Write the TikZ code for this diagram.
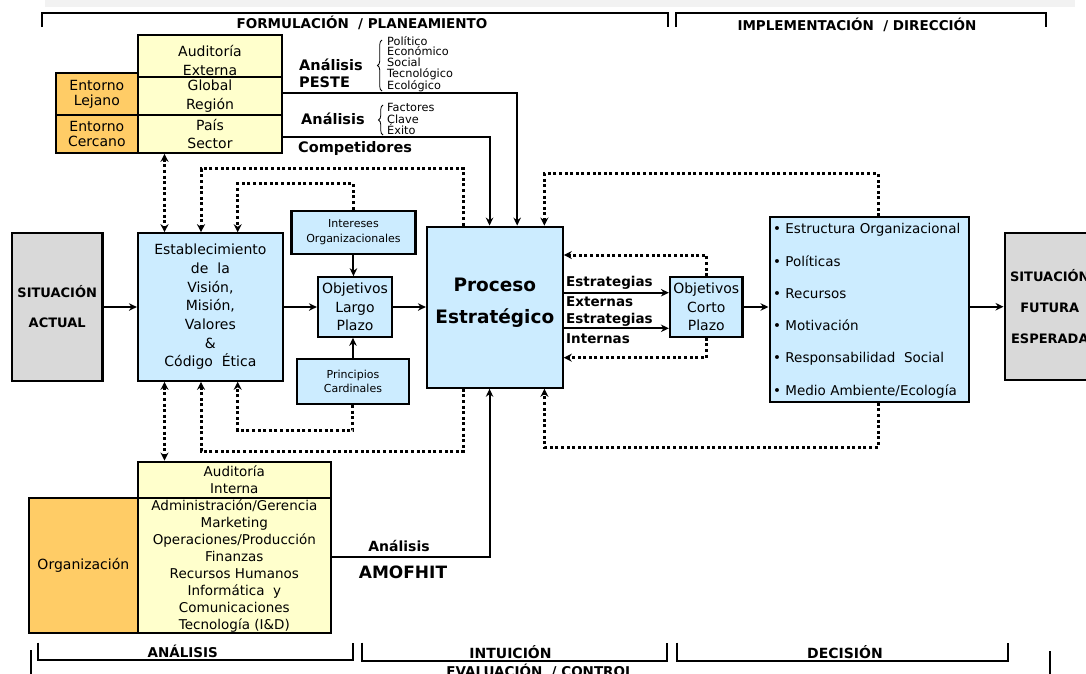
\documentclass[tikz,border=0pt]{standalone}
\usepackage{fontspec}
\setmainfont{DejaVu Sans}
\usetikzlibrary{arrows.meta,decorations.pathreplacing,calc}
\newcommand{\myfs}[2]{\fontsize{#1}{#2}\selectfont}
\definecolor{yelc}{HTML}{FFFFCC}
\definecolor{orac}{HTML}{FFCC66}
\definecolor{bluc}{HTML}{CCECFF}
\definecolor{grec}{HTML}{D9D9D9}
\begin{document}
\begin{tikzpicture}[x=1pt,y=-1pt,
  bx/.style={draw, line width=2.2pt, inner sep=0pt, align=center, text=black},
  yel/.style={bx, fill=yelc},
  ora/.style={bx, fill=orac},
  blu/.style={bx, fill=bluc},
  gry/.style={bx, fill=grec},
  txt/.style={inner sep=0pt, align=center},
  conn/.style={line width=2pt, -{Stealth[length=8pt,width=7.5pt]}},
  dots/.style={line width=3pt, dash pattern=on 3pt off 2.6pt},
  dotarr/.style={dots, -{Stealth[length=8pt,width=8pt]}},
  dotdbl/.style={dots, {Stealth[length=8pt,width=8pt]}-{Stealth[length=8pt,width=8pt]}},
  brk/.style={line width=2pt},
  brc/.style={line width=0.8pt, decorate, decoration={brace, amplitude=4.5pt}},
  hd/.style={txt, font=\bfseries\myfs{13.5}{14}}
]
\useasboundingbox (0,0) rectangle (1086,673);
\fill[white] (0,0) rectangle (1086,673);
\clip (0,0) rectangle (1086,673);
\fill[black!5] (45,0) rectangle (1075,7);

% ---- top brackets
\draw[brk] (42,27) -- (42,13) -- (668,13) -- (668,27);
\draw[brk] (676,27) -- (676,13) -- (1046,13) -- (1046,27);
\node[hd] (tform) at (362,22.7) {FORMULACIÓN\ \ / PLANEAMIENTO};
\node[hd] (timpl) at (857,25) {IMPLEMENTACIÓN\ \ / DIRECCIÓN};

% ---- external audit block
\node[ora, minimum width=81.7, minimum height=42, font=\myfs{14}{14.5}] (lejano) at (96.85,94.3) {Entorno\\Lejano};
\node[ora, minimum width=81.7, minimum height=37.4, font=\myfs{14}{15}] (cercano) at (96.85,134) {Entorno\\Cercano};
\node[yel, minimum width=144.6, minimum height=41.7] (audext) at (210,56.15) {};
\node[txt, font=\myfs{14}{19.3}] (audextT) at (210,60.3) {Auditoría\\Externa};
\node[yel, minimum width=144.6, minimum height=38.3, font=\myfs{14}{18.7}] (global) at (210,96.15) {Global\\Región};
\node[yel, minimum width=144.6, minimum height=37.4, font=\myfs{14}{18.3}] (pais) at (210,134) {País\\Sector};

\node[txt, anchor=west, align=left, font=\bfseries\myfs{14.5}{16.7}] (peste) at (299,73) {Análisis\\PESTE};
\draw[brc] (382,91) -- (382,40);
\node[txt, anchor=west, align=left, font=\myfs{11.3}{10.75}] (pestei) at (387,64.2) {Político\\Económico\\Social\\Tecnológico\\Ecológico};
\node[txt, anchor=west, font=\bfseries\myfs{14.5}{16}] (fce) at (301,119) {Análisis};
\draw[brc] (383,135) -- (383,105);
\node[txt, anchor=west, align=left, font=\myfs{11.3}{11.8}] (fcei) at (387,119) {Factores\\Clave\\Éxito};
\node[txt, anchor=west, font=\bfseries\myfs{14.5}{16}] (comp) at (298,148) {Competidores};

% ---- main row
\node[gry, minimum width=90.4, minimum height=147.4, font=\bfseries\myfs{13}{30}] (sitact) at (57.2,307) {SITUACIÓN\\ACTUAL};
\node[blu, minimum width=144.8, minimum height=147.4, font=\myfs{14}{18.7}] (estab) at (210.4,307) {Establecimiento\\de\ \ la\\Visión,\\Misión,\\Valores\\\&\\Código\ \ Ética};
\node[blu, minimum width=124.1, minimum height=43.6, font=\myfs{11}{15}] (intereses) at (353.45,232.5) {Intereses\\Organizacionales};
\node[blu, minimum width=74, minimum height=59.4, font=\myfs{14}{18.3}] (objlp) at (355,307) {Objetivos\\Largo\\Plazo};
\node[blu, minimum width=112.7, minimum height=44.7, font=\myfs{11}{14.3}] (principios) at (352.95,381.65) {Principios\\Cardinales};
\node[blu, minimum width=135.7, minimum height=161] (proceso) at (494.85,307.2) {};
\node[txt, font=\bfseries\myfs{18.5}{31.6}] (procesoT) at (494.85,302.5) {Proceso\\Estratégico};
\node[blu, minimum width=72.5, minimum height=59.4, font=\myfs{14}{18.3}] (objcp) at (706.25,307) {Objetivos\\Corto\\Plazo};
\node[blu, minimum width=199.1, minimum height=184.4] (impl) at (869.15,309.5) {};
\node[txt, anchor=west, align=left, font=\myfs{13.5}{32.3}] (implT) at (773,310.8) {•\ Estructura Organizacional\\•\ Políticas\\•\ Recursos\\•\ Motivación\\•\ Responsabilidad\ \ Social\\•\ Medio Ambiente/Ecología};
\node[gry, minimum width=90.4, minimum height=146.7, font=\bfseries\myfs{13}{30.7}] (sitfut) at (1049.8,306.7) {SITUACIÓN\\FUTURA\\ESPERADA};

\node[txt, anchor=west, font=\bfseries\myfs{13.5}{14}] (est1) at (566,282.7) {Estrategias};
\node[txt, anchor=west, font=\bfseries\myfs{13.5}{14}] (ext) at (566,301.7) {Externas};
\node[txt, anchor=west, font=\bfseries\myfs{13.5}{14}] (est2) at (566,320) {Estrategias};
\node[txt, anchor=west, font=\bfseries\myfs{13.5}{14}] (inte) at (566,338.3) {Internas};

% ---- internal audit block
\node[ora, minimum width=108.7, minimum height=135, font=\myfs{14}{16}] (org) at (83.35,565.8) {Organización};
\node[yel, minimum width=193.3, minimum height=36.6, font=\myfs{13.5}{17.3}] (audint) at (234.35,480) {Auditoría\\Interna};
\node[yel, minimum width=193.3, minimum height=135, font=\myfs{13.5}{17}] (items) at (234.35,565.8) {Administración/Gerencia\\Marketing\\Operaciones/Producción\\Finanzas\\Recursos Humanos\\Informática\ \ y\\Comunicaciones\\Tecnología (I\&D)};
\node[txt, font=\bfseries\myfs{14}{16}] (amo1) at (399,545.7) {Análisis};
\node[txt, font=\bfseries\myfs{17}{18}] (amo2) at (403,572.3) {AMOFHIT};

% ---- solid connectors
\draw[conn] (sitact.east) -- (estab.west);
\draw[conn] (estab.east) -- (objlp.west);
\draw[conn] (objlp.east) -- (objlp.east -| proceso.west);
\draw[conn] (intereses.south) -- (intereses.south |- objlp.north);
\draw[conn] (principios.north) -- (principios.north |- objlp.south);
\draw[conn] ([yshift=3pt]global.east) -| ([xshift=22.3pt]proceso.north);
\draw[conn] ([yshift=-2.7pt]pais.east) -| ([xshift=-5.3pt]proceso.north);
\draw[conn] ([yshift=8.5pt]items.east) -| ([xshift=-5.3pt]proceso.south);
\draw[conn] ([yshift=14.5pt]proceso.east) -- ([yshift=14.3pt]objcp.west);
\draw[conn] ([yshift=-21.1pt]proceso.east) -- ([yshift=-21.3pt]objcp.west);
\draw[conn] (objcp.east) -- (objcp.east -| impl.west);
\draw[conn] (sitfut.west -| impl.east) -- (sitfut.west);

% ---- dotted feedback connectors
\draw[dotdbl] ([xshift=-45.5pt]pais.south) -- ([xshift=-45.9pt]estab.north);
\draw[dotarr] ([xshift=-31.25pt]proceso.north) -- ++(0,-56.7) -| ([xshift=-9.4pt]estab.north);
\draw[dotarr] (intereses.north) -- ++(0,-25.7) -| ([xshift=27.3pt]estab.north);
\draw[dotarr] (principios.south) -- ++(0,25.3) -| ([xshift=27.3pt]estab.south);
\draw[dotarr] ([xshift=-31.25pt]proceso.south) -- ++(0,62.3) -| ([xshift=-9.4pt]estab.south);
\draw[dotdbl] ([xshift=-45.9pt]estab.south) -- ([xshift=-69.85pt]audint.north);
\draw[dotarr] (objcp.north) |- ([yshift=52.2pt]proceso.east);
\draw[dotarr] (objcp.south) |- ([yshift=-50.5pt]proceso.east);
\draw[dotarr] ([xshift=8.85pt]impl.north) -- ++(0,-42.3) -| ([xshift=49.55pt]proceso.north);
\draw[dotarr] ([xshift=8.85pt]impl.south) -- ++(0,44.3) -| ([xshift=49.55pt]proceso.south);

% ---- bottom brackets
\draw[brk] (37.7,642.7) -- (37.7,659.5) -- (352.7,659.5) -- (352.7,642.7);
\draw[brk] (362.4,642.7) -- (362.4,660.5) -- (667.3,660.5) -- (667.3,642.7);
\draw[brk] (676.8,642.7) -- (676.8,660.5) -- (1008.4,660.5) -- (1008.4,642.7);
\draw[brk] (31,650) -- (31,688) -- (1050.3,688) -- (1050.3,650.7);
\node[hd] (tana) at (182.7,651.7) {ANÁLISIS};
\node[hd, font=\bfseries\myfs{14}{14}] (tint) at (510.5,651.7) {INTUICIÓN};
\node[hd, font=\bfseries\myfs{14}{14}] (tdec) at (845,651.7) {DECISIÓN};
\node[hd, anchor=base] (teval) at (540,676.7) {EVALUACIÓN\ \ / CONTROL};
\end{tikzpicture}
\end{document}
